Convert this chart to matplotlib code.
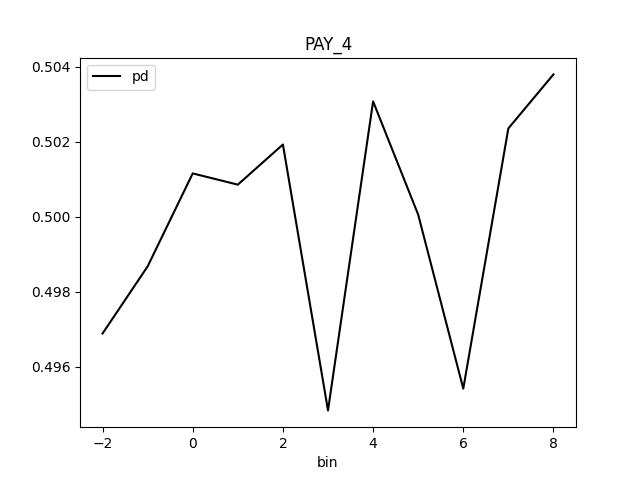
import matplotlib
matplotlib.use("Agg")
import matplotlib.pyplot as plt

# bin values and pd per bin
bins = [-2, -1, 0, 1, 2, 3, 4, 5, 6, 7, 8]
pd_values = [0.49688, 0.49867, 0.50115, 0.50085, 0.50192, 0.49483,
             0.50307, 0.50005, 0.49541, 0.50235, 0.50379]

fig, ax = plt.subplots(figsize=(6.4, 4.8), dpi=100)
ax.plot(bins, pd_values, color='black', label='pd')
ax.set_title('PAY_4')
ax.set_xlabel('bin')
ax.legend(loc='upper left')

fig.savefig('out.png')
